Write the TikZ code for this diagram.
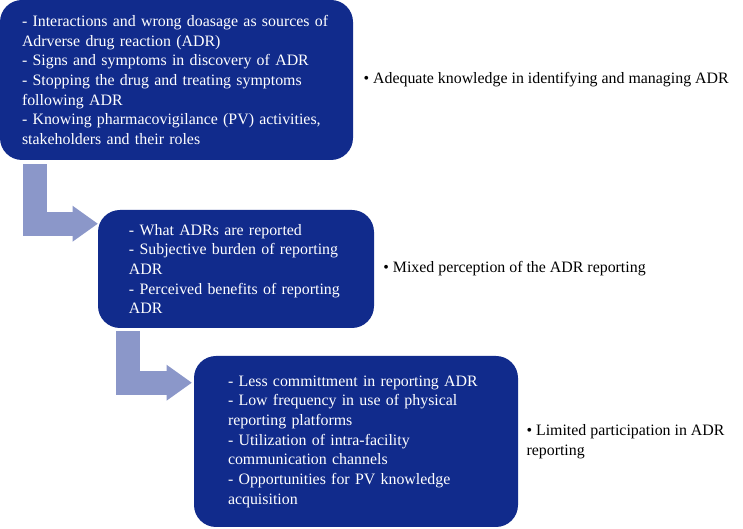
\documentclass[tikz,border=0pt]{standalone}
\usepackage{fontspec}
\setmainfont{Liberation Serif}
\usepackage{xcolor}
\usepackage{tikz}
\usetikzlibrary{arrows.meta, positioning, calc}

\definecolor{adrblue}{RGB}{17,43,140}
\definecolor{flowblue}{RGB}{139,151,201}

\begin{document}
\begin{tikzpicture}[
    themebox/.style={rectangle, fill=adrblue, rounded corners=0.55cm, text=white, align=left, inner sep=0pt, font=\fontsize{11.3}{14}\selectfont},
    outcome/.style={align=left, inner sep=0pt, font=\fontsize{11.3}{14}\selectfont},
    flowarrow/.style={draw=flowblue, line width=0.6cm, line join=miter, -{Triangle[length=0.63cm, width=0.9cm, line width=0pt]}}
]
\useasboundingbox (0,0) rectangle (18.575,13.225);

% =============================================================
% Theme boxes (stepped down to the right)
% =============================================================
\node[themebox, minimum width=8.825cm, minimum height=4cm, text width=7.725cm] (know) at (4.4125, 11.225) {- Interactions and wrong doasage as sources of\\Adrverse drug reaction (ADR)\\- Signs and symptoms in discovery of ADR\\- Stopping the drug and treating symptoms\\following ADR\\- Knowing pharmacovigilance (PV) activities,\\stakeholders and their roles};
\node[themebox, minimum width=6.9cm, minimum height=2.95cm, text width=5.35cm] (percep) at (5.9, 6.5) {- What ADRs are reported\\- Subjective burden of reporting\\ADR\\- Perceived benefits of reporting\\ADR};
\node[themebox, minimum width=8.1cm, minimum height=4.275cm, text width=6.4cm] (partic) at (8.9, 2.1875) {- Less committment in reporting ADR\\- Low frequency in use of physical\\reporting platforms\\- Utilization of intra-facility\\communication channels\\- Opportunities for PV knowledge\\acquisition};

% =============================================================
% Outcomes on the right
% =============================================================
\node[outcome, right=0.25cm of know] (knowlbl) {\textbullet\ Adequate knowledge in identifying and managing ADR};
\node[outcome, right=0.22cm of percep] (perceplbl) {\textbullet\ Mixed perception of the ADR reporting};
\node[outcome, right=0.2cm of partic] (particlbl) {\textbullet\ Limited participation in ADR\\reporting};

% =============================================================
% Bent arrows between the boxes
% =============================================================
\draw[flowarrow] ($(know.south west)+(0.875,-0.1)$) |- ($(percep.north west)+(0,-0.35)$);
\draw[flowarrow] ($(percep.south west)+(0.75,-0.075)$) |- ($(partic.north west)+(-0.05,-0.675)$);

\end{tikzpicture}
\end{document}
